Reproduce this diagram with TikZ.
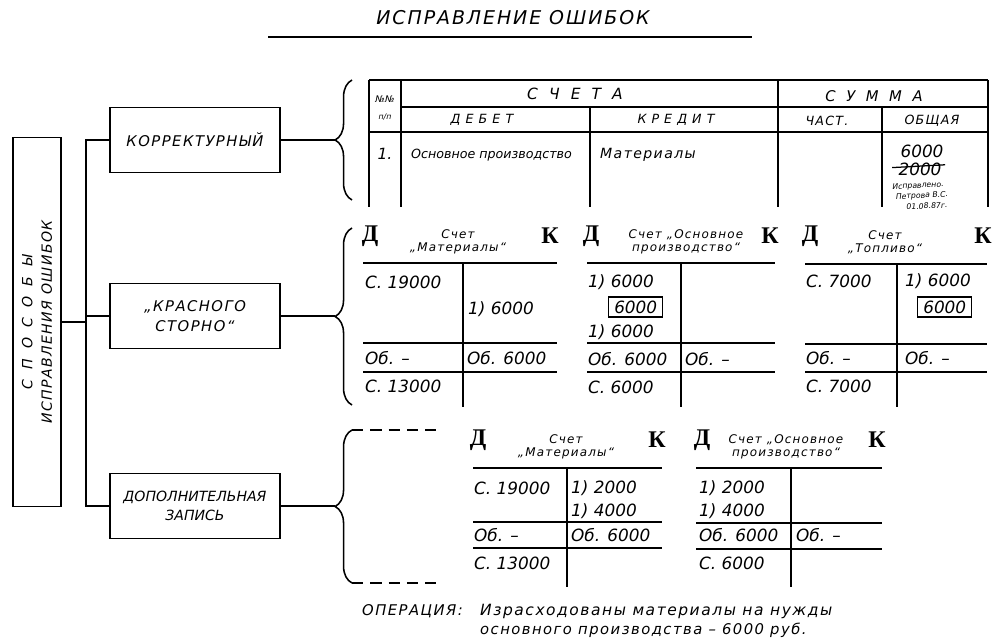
\documentclass[tikz,border=0pt]{standalone}
\usepackage{fontspec}
\setmainfont{DejaVu Sans}
\newfontfamily\stencil[LetterSpace=10]{DejaVu Sans}
\newfontfamily\widefont[LetterSpace=40]{DejaVu Sans}
\newfontfamily\opfont[LetterSpace=10]{DejaVu Sans}
\newfontfamily\dkfont{Liberation Serif}
\usetikzlibrary{decorations.pathreplacing}

\begin{document}
\begin{tikzpicture}[
    x=0.025cm, y=-0.025cm,
    line width=1.1pt,
    every node/.style={inner sep=1pt, font=\itshape},
    methodbox/.style={draw, minimum width=4.25cm, minimum height=1.62cm, align=center,
        font=\stencil\itshape\fontsize{10.5}{14}\selectfont},
    amt/.style={anchor=west, font=\itshape\fontsize{12}{14}\selectfont},
    acct/.style={align=center, font=\stencil\itshape\fontsize{8.5}{9.5}\selectfont},
    head/.style={font=\stencil\itshape\fontsize{9}{10}\selectfont},
    dk/.style={font=\dkfont\bfseries\fontsize{17}{17}\selectfont},
    notetext/.style={rotate=3, inner sep=0pt, font=\itshape\fontsize{5.5}{6}\selectfont},
    curly/.style={decorate, decoration={brace, amplitude=12pt}},
    framed/.style={draw, line width=0.9pt, inner xsep=4pt, inner ysep=2.5pt}
]

    \useasboundingbox (0,0) rectangle (1000,644);

    % Title
    \node[font=\stencil\itshape\fontsize{13.5}{15}\selectfont] (title) at (513,18) {ИСПРАВЛЕНИЕ ОШИБОК};
    \draw[line width=1.4pt] (268,37) -- (752,37);

    % Left box and the three methods
    \node[draw, minimum width=1.2cm, minimum height=9.22cm] (ways) at (37,322) {};
    \node[rotate=90, align=center, font=\stencil\itshape\fontsize{10}{14}\selectfont] (waystext) at (ways.center)
        {{\widefont С П О С О Б Ы}\\ИСПРАВЛЕНИЯ ОШИБОК};

    \node[methodbox] (corr) at (195,140) {КОРРЕКТУРНЫЙ};
    \node[methodbox] (storno) at (195,316) {„КРАСНОГО\\СТОРНО“};
    \node[methodbox, font=\itshape\fontsize{10}{14}\selectfont] (extra) at (195,506) {ДОПОЛНИТЕЛЬНАЯ\\ЗАПИСЬ};

    \coordinate (bus) at (86,322);
    \draw (ways.east) -- (bus);
    \draw (corr.west) -| (bus) |- (extra.west);
    \draw (storno.west) -- (storno.west -| bus);

    % Braces
    \coordinate (tip1) at (335,140);
    \coordinate (tip2) at (335,316);
    \coordinate (tip3) at (335,506);
    \draw[curly] (352,200) -- (352,80);
    \draw[curly] (352,405) -- (352,228);
    \draw[curly] (352,583) -- (352,430);
    \draw[dash pattern=on 8pt off 5pt] (352,430) -- (440,430) (352,583) -- (440,583);
    \draw (corr.east) -- (corr.east -| tip1);
    \draw (storno.east) -- (storno.east -| tip2);
    \draw (extra.east) -- (extra.east -| tip3);

    % Journal entry table
    \draw (369,80) -- (988,80) (401,107) -- (988,107) (369,132) -- (988,132);
    \draw (369,80) -- (369,207) (401,80) -- (401,207) (778,80) -- (778,207) (988,80) -- (988,207);
    \draw (590,107) -- (590,207) (882,107) -- (882,207);

    \node[font=\itshape\fontsize{6.5}{7}\selectfont] (nn) at (385,99) {№№};
    \node[font=\itshape\fontsize{5.5}{6}\selectfont] (np) at (385,117) {п/п};
    \node[font=\widefont\itshape\fontsize{11}{11}\selectfont] (accs) at (575,94) {С Ч Е Т А};
    \node[font=\widefont\itshape\fontsize{10.5}{11}\selectfont] (sums) at (874,96) {С У М М А};
    \node[font=\widefont\itshape\fontsize{9}{10}\selectfont] (deb) at (482,120) {ДЕБЕТ};
    \node[font=\widefont\itshape\fontsize{9}{10}\selectfont] (cred) at (676,120) {КРЕДИТ};
    \node[head] (part) at (827,121) {ЧАСТ.};
    \node[head] (total) at (932,121) {ОБЩАЯ};

    \node[font=\itshape\fontsize{11}{12}\selectfont] (row1) at (385,154) {1.};
    \node[anchor=west, font=\itshape\fontsize{9}{12}\selectfont] (rdeb) at (409,155) {Основное производство};
    \node[anchor=west, font=\stencil\itshape\fontsize{10}{12}\selectfont] (rcred) at (598,155) {Материалы};
    \node[amt, anchor=center] (new) at (922,151) {6000};
    \node[amt, anchor=center, inner sep=0pt] (old) at (920,169) {2000};
    \draw[line width=0.9pt] ([xshift=-4pt,yshift=1pt]old.west) -- ([xshift=2pt,yshift=3pt]old.east);
    \node[notetext] (note1) at (918,186) {Исправлено.};
    \node[notetext] (note2) at (922,196) {Петрова В.С.};
    \node[notetext] (note3) at (927,206) {01.08.87г.};

    % Red storno: Materials
    \draw (363,263) -- (557,263) (363,343) -- (557,343) (363,372) -- (557,372) (463,263) -- (463,407);
    \node[dk] (aD) at (370,236) {Д};
    \node[dk] (aK) at (550,236) {К};
    \node[acct] (aT) at (458,242) {Счет\\„Материалы“};
    \node[amt] (a1) at (363,282) {С. 19000};
    \node[amt] (a2) at (466,309) {1) 6000};
    \node[amt] (a3) at (363,358) {Об. –};
    \node[amt] (a4) at (465,358) {Об. 6000};
    \node[amt] (a5) at (363,386) {С. 13000};

    % Red storno: Main production
    \draw (587,263) -- (775,263) (587,343) -- (775,343) (587,372) -- (775,372) (681,263) -- (681,407);
    \node[dk] (bD) at (591,236) {Д};
    \node[dk] (bK) at (770,236) {К};
    \node[acct] (bT) at (686,242) {Счет „Основное\\производство“};
    \node[amt] (b1) at (586,282) {1) 6000};
    \node[amt, framed] (b2) at (608,307) {6000};
    \node[amt] (b3) at (586,332) {1) 6000};
    \node[amt] (b4) at (586,359) {Об. 6000};
    \node[amt] (b5) at (683,359) {Об. –};
    \node[amt] (b6) at (586,387) {С. 6000};

    % Red storno: Fuel
    \draw (805,264) -- (987,264) (805,344) -- (987,344) (805,372) -- (987,372) (897,264) -- (897,407);
    \node[dk] (cD) at (810,236) {Д};
    \node[dk] (cK) at (983,236) {К};
    \node[acct] (cT) at (885,242) {Счет\\„Топливо“};
    \node[amt] (c1) at (804,281) {С. 7000};
    \node[amt] (c2) at (903,281) {1) 6000};
    \node[amt, framed] (c3) at (917,307) {6000};
    \node[amt] (c4) at (804,358) {Об. –};
    \node[amt] (c5) at (903,358) {Об. –};
    \node[amt] (c6) at (804,386) {С. 7000};

    % Additional entry: Materials
    \draw (473,468) -- (662,468) (473,522) -- (662,522) (473,548) -- (662,548) (567,468) -- (567,587);
    \node[dk] (dD) at (478,440) {Д};
    \node[dk] (dK) at (657,440) {К};
    \node[acct] (dT) at (566,447) {Счет\\„Материалы“};
    \node[amt] (d1) at (472,488) {С. 19000};
    \node[amt] (d2) at (569,488) {1) 2000};
    \node[amt] (d3) at (569,511) {1) 4000};
    \node[amt] (d4) at (472,535) {Об. –};
    \node[amt] (d5) at (569,535) {Об. 6000};
    \node[amt] (d6) at (472,563) {С. 13000};

    % Additional entry: Main production
    \draw (696,468) -- (882,468) (696,523) -- (882,523) (696,549) -- (882,549) (791,468) -- (791,587);
    \node[dk] (eD) at (702,440) {Д};
    \node[dk] (eK) at (877,440) {К};
    \node[acct] (eT) at (786,447) {Счет „Основное\\производство“};
    \node[amt] (e1) at (697,488) {1) 2000};
    \node[amt] (e2) at (697,511) {1) 4000};
    \node[amt] (e3) at (697,535) {Об. 6000};
    \node[amt] (e4) at (794,535) {Об. –};
    \node[amt] (e5) at (697,563) {С. 6000};

    % Operation
    \node[anchor=west, font=\opfont\itshape\fontsize{10.5}{12}\selectfont] (op) at (360,611) {ОПЕРАЦИЯ:};
    \node[anchor=west, font=\opfont\itshape\fontsize{11}{12}\selectfont] (op1) at (478,611) {Израсходованы материалы на нужды};
    \node[anchor=west, font=\opfont\itshape\fontsize{10.5}{12}\selectfont] (op2) at (478,630) {основного производства – 6000 руб.};

\end{tikzpicture}
\end{document}
